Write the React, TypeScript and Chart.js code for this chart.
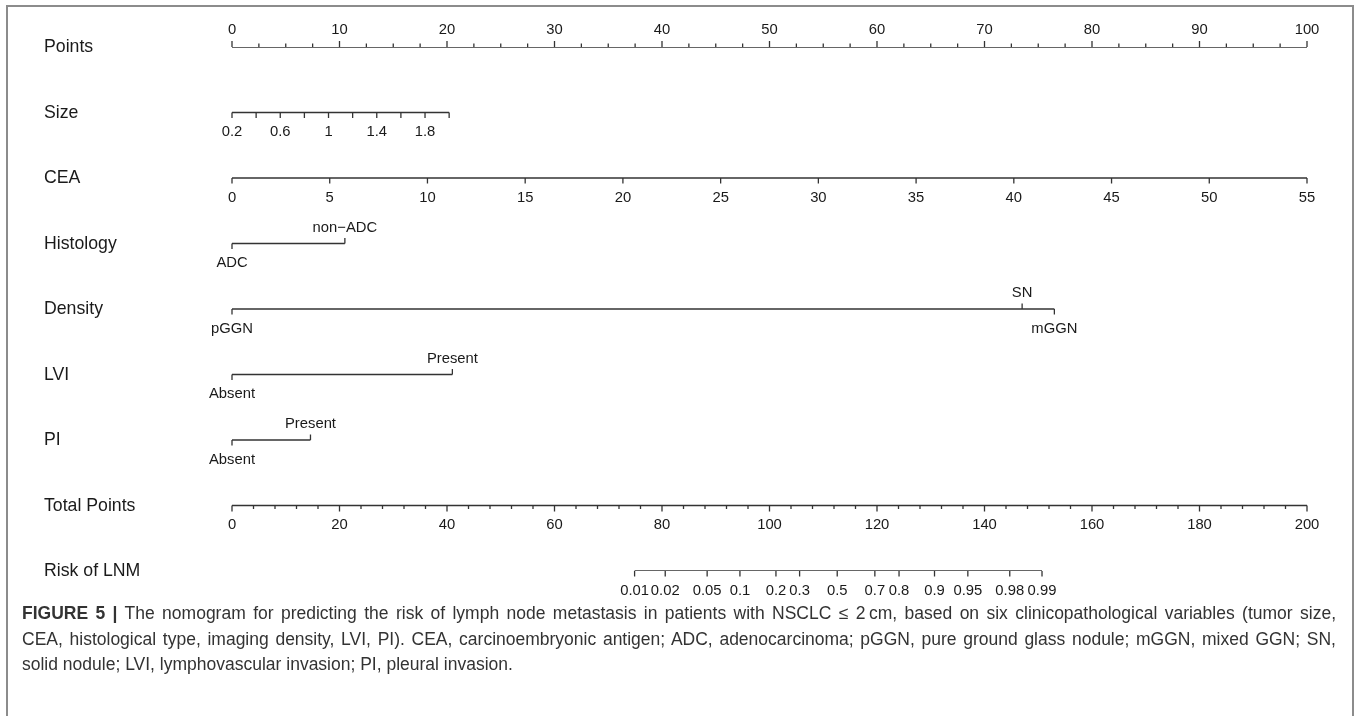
import React, { useEffect, useRef } from "react";
import { Chart, registerables } from "chart.js";

Chart.register(...registerables);

// ---------- data ----------
const ROW_LABELS = ["Points", "Size", "CEA", "Histology", "Density", "LVI", "PI", "Total Points", "Risk of LNM"];

const POINTS_MAJOR = [0, 10, 20, 30, 40, 50, 60, 70, 80, 90, 100];
const POINTS_MINOR_STEP = 2.5;

const SIZE_TICKS = [0.2, 0.4, 0.6, 0.8, 1.0, 1.2, 1.4, 1.6, 1.8, 2.0];
const SIZE_LABELS = ["0.2", "0.6", "1", "1.4", "1.8"];
const SIZE_MAX_POINTS = 20.2; // points reached at size 2.0

const CEA_TICKS = [0, 5, 10, 15, 20, 25, 30, 35, 40, 45, 50, 55];
const CEA_MAX_POINTS = 100; // points reached at CEA 55

const HISTOLOGY_LEVELS = ["ADC", "non\u2212ADC"];
const HISTOLOGY_POINTS = [0, 10.5];

const DENSITY_LEVELS = ["pGGN", "SN", "mGGN"];
const DENSITY_POINTS = [0, 73.5, 76.5];

const LVI_LEVELS = ["Absent", "Present"];
const LVI_POINTS = [0, 20.5];

const PI_LEVELS = ["Absent", "Present"];
const PI_POINTS = [0, 7.3];

const TOTAL_MAJOR = [0, 20, 40, 60, 80, 100, 120, 140, 160, 180, 200];
const TOTAL_MINOR_STEP = 4;

const RISK_LABELS = ["0.01", "0.02", "0.05", "0.1", "0.2", "0.3", "0.5", "0.7", "0.8", "0.9", "0.95", "0.98", "0.99"];
const RISK_TOTAL_POINTS = [74.9, 80.6, 88.4, 94.5, 101.2, 105.6, 112.6, 119.6, 124.1, 130.7, 136.9, 144.7, 150.7];

// ---------- styling ----------
const FONT = "'Liberation Sans', Arial, Helvetica, sans-serif";
const LINE_COLOR = "#333333";
const TEXT_COLOR = "#1a1a1a";

const nomogramPlugin = {
  id: "nomogram",
  afterDatasetsDraw(chart: any) {
    const ctx = chart.ctx as CanvasRenderingContext2D;
    const s = chart.scales;
    const yPx = (row: number) => s.y.getPixelForValue(row);
    ctx.save();
    ctx.strokeStyle = LINE_COLOR;
    ctx.lineWidth = 1.3;
    ctx.fillStyle = TEXT_COLOR;
    ctx.textAlign = "center";
    ctx.textBaseline = "middle";

    const tick = (px: number, py: number, dir: number, len: number) => {
      ctx.beginPath();
      ctx.moveTo(px, py);
      ctx.lineTo(px, py + dir * len);
      ctx.stroke();
    };
    const tickFont = `14.8px ${FONT}`;
    const ABOVE = -17;
    const BELOW = 19.5;

    // Row labels
    ctx.font = `17.7px ${FONT}`;
    ctx.textAlign = "left";
    ROW_LABELS.forEach((lab, i) => ctx.fillText(lab, 44, yPx(i) + 0.5));
    ctx.textAlign = "center";
    ctx.font = tickFont;

    // Points axis (ticks up, labels above)
    {
      const py = yPx(0);
      for (let v = 0; v <= 100 + 1e-9; v += POINTS_MINOR_STEP) {
        const major = POINTS_MAJOR.includes(v);
        tick(s.x.getPixelForValue(v), py, -1, major ? 6 : 3.5);
      }
      POINTS_MAJOR.forEach((v) => ctx.fillText(String(v), s.x.getPixelForValue(v), py + ABOVE));
    }
    // Size
    {
      const py = yPx(1);
      SIZE_TICKS.forEach((v) => tick(s.xSize.getPixelForValue(v), py, 1, 5.5));
      SIZE_LABELS.forEach((l) => ctx.fillText(l, s.xSize.getPixelForValue(parseFloat(l)), py + BELOW));
    }
    // CEA
    {
      const py = yPx(2);
      CEA_TICKS.forEach((v) => {
        tick(s.xCEA.getPixelForValue(v), py, 1, 5.5);
        ctx.fillText(String(v), s.xCEA.getPixelForValue(v), py + BELOW);
      });
    }
    // categorical rows: alternate below / above
    const cat = (row: number, levels: string[], pts: number[]) => {
      const py = yPx(row);
      levels.forEach((l, i) => {
        const px = s.x.getPixelForValue(pts[i]);
        const up = i % 2 === 1;
        tick(px, py, up ? -1 : 1, 5.5);
        ctx.fillText(l, px, py + (up ? -16 : BELOW));
      });
    };
    cat(3, HISTOLOGY_LEVELS, HISTOLOGY_POINTS);
    cat(4, DENSITY_LEVELS, DENSITY_POINTS);
    cat(5, LVI_LEVELS, LVI_POINTS);
    cat(6, PI_LEVELS, PI_POINTS);

    // Total points (ticks down, labels below)
    {
      const py = yPx(7);
      for (let v = 0; v <= 200 + 1e-9; v += TOTAL_MINOR_STEP) {
        const major = TOTAL_MAJOR.includes(v);
        tick(s.xTotal.getPixelForValue(v), py, 1, major ? 6 : 3.5);
      }
      TOTAL_MAJOR.forEach((v) => ctx.fillText(String(v), s.xTotal.getPixelForValue(v), py + BELOW));
    }
    // Risk
    {
      const py = yPx(8);
      RISK_TOTAL_POINTS.forEach((v, i) => {
        const px = s.xTotal.getPixelForValue(v);
        tick(px, py, 1, 5.5);
        ctx.fillText(RISK_LABELS[i], px, py + BELOW);
      });
    }
    ctx.restore();
  },
};

function lineDs(points: { x: number; y: number }[], axis: string) {
  return {
    data: points,
    xAxisID: axis,
    yAxisID: "y",
    showLine: true,
    borderColor: LINE_COLOR,
    borderWidth: 1.3,
    pointRadius: 0,
    fill: false,
  };
}

export default function App() {
  const ref = useRef<HTMLCanvasElement>(null);
  useEffect(() => {
    if (!ref.current) return;
    const datasets = [
      lineDs([{ x: 0, y: 0 }, { x: 100, y: 0 }], "x"),
      lineDs([{ x: SIZE_TICKS[0], y: 1 }, { x: SIZE_TICKS[SIZE_TICKS.length - 1], y: 1 }], "xSize"),
      lineDs([{ x: CEA_TICKS[0], y: 2 }, { x: CEA_TICKS[CEA_TICKS.length - 1], y: 2 }], "xCEA"),
      lineDs(HISTOLOGY_POINTS.map((p) => ({ x: p, y: 3 })), "x"),
      lineDs(DENSITY_POINTS.map((p) => ({ x: p, y: 4 })), "x"),
      lineDs(LVI_POINTS.map((p) => ({ x: p, y: 5 })), "x"),
      lineDs(PI_POINTS.map((p) => ({ x: p, y: 6 })), "x"),
      lineDs([{ x: 0, y: 7 }, { x: 200, y: 7 }], "xTotal"),
      lineDs([{ x: RISK_TOTAL_POINTS[0], y: 8 }, { x: RISK_TOTAL_POINTS[RISK_TOTAL_POINTS.length - 1], y: 8 }], "xTotal"),
    ];
    const hidden = { display: false };
    const chart = new Chart(ref.current, {
      type: "scatter",
      data: { datasets: datasets as any },
      options: {
        responsive: false,
        animation: false,
        devicePixelRatio: 1,
        layout: { padding: { left: 232, right: 50, top: 47, bottom: 145 } },
        plugins: { legend: { display: false }, tooltip: { enabled: false } },
        scales: {
          x: { type: "linear", min: 0, max: 100, ...hidden },
          xSize: {
            type: "linear",
            axis: "x",
            min: SIZE_TICKS[0],
            max: SIZE_TICKS[0] + ((SIZE_TICKS[SIZE_TICKS.length - 1] - SIZE_TICKS[0]) * 100) / SIZE_MAX_POINTS,
            ...hidden,
          },
          xCEA: { type: "linear", axis: "x", min: 0, max: (CEA_TICKS[CEA_TICKS.length - 1] * 100) / CEA_MAX_POINTS, ...hidden },
          xTotal: { type: "linear", axis: "x", min: 0, max: 200, ...hidden },
          y: { type: "linear", min: 0, max: ROW_LABELS.length - 1, reverse: true, ...hidden },
        },
      } as any,
      plugins: [nomogramPlugin],
    });
    return () => chart.destroy();
  }, []);

  const justified: any = { width: 1314, textAlign: "justify", textAlignLast: "justify" };

  return (
    <div
      style={{
        position: "fixed",
        left: 0,
        top: 0,
        width: 1357,
        height: 716,
        overflow: "hidden",
        background: "#fff",
      }}
    >
      <div
        style={{
          position: "absolute",
          left: 6,
          top: 5,
          width: 1348,
          height: 800,
          border: "2px solid #8c8c8c",
          boxSizing: "border-box",
        }}
      />
      <canvas ref={ref} width={1357} height={716} style={{ position: "absolute", left: 0, top: 0, display: "block" }} />
      <div
        style={{
          position: "absolute",
          left: 22,
          top: 601,
          fontFamily: FONT,
          fontSize: 17.5,
          lineHeight: "25.5px",
          color: "#333",
          whiteSpace: "nowrap",
        }}
      >
        <div style={justified}>
          <b>FIGURE 5 |</b> The nomogram for predicting the risk of lymph node metastasis in patients with NSCLC {"\u2264"} 2{"\u2009"}cm, based on six clinicopathological variables (tumor size,
        </div>
        <div style={justified}>
          CEA, histological type, imaging density, LVI, PI). CEA, carcinoembryonic antigen; ADC, adenocarcinoma; pGGN, pure ground glass nodule; mGGN, mixed GGN; SN,
        </div>
        <div>solid nodule; LVI, lymphovascular invasion; PI, pleural invasion.</div>
      </div>
    </div>
  );
}
